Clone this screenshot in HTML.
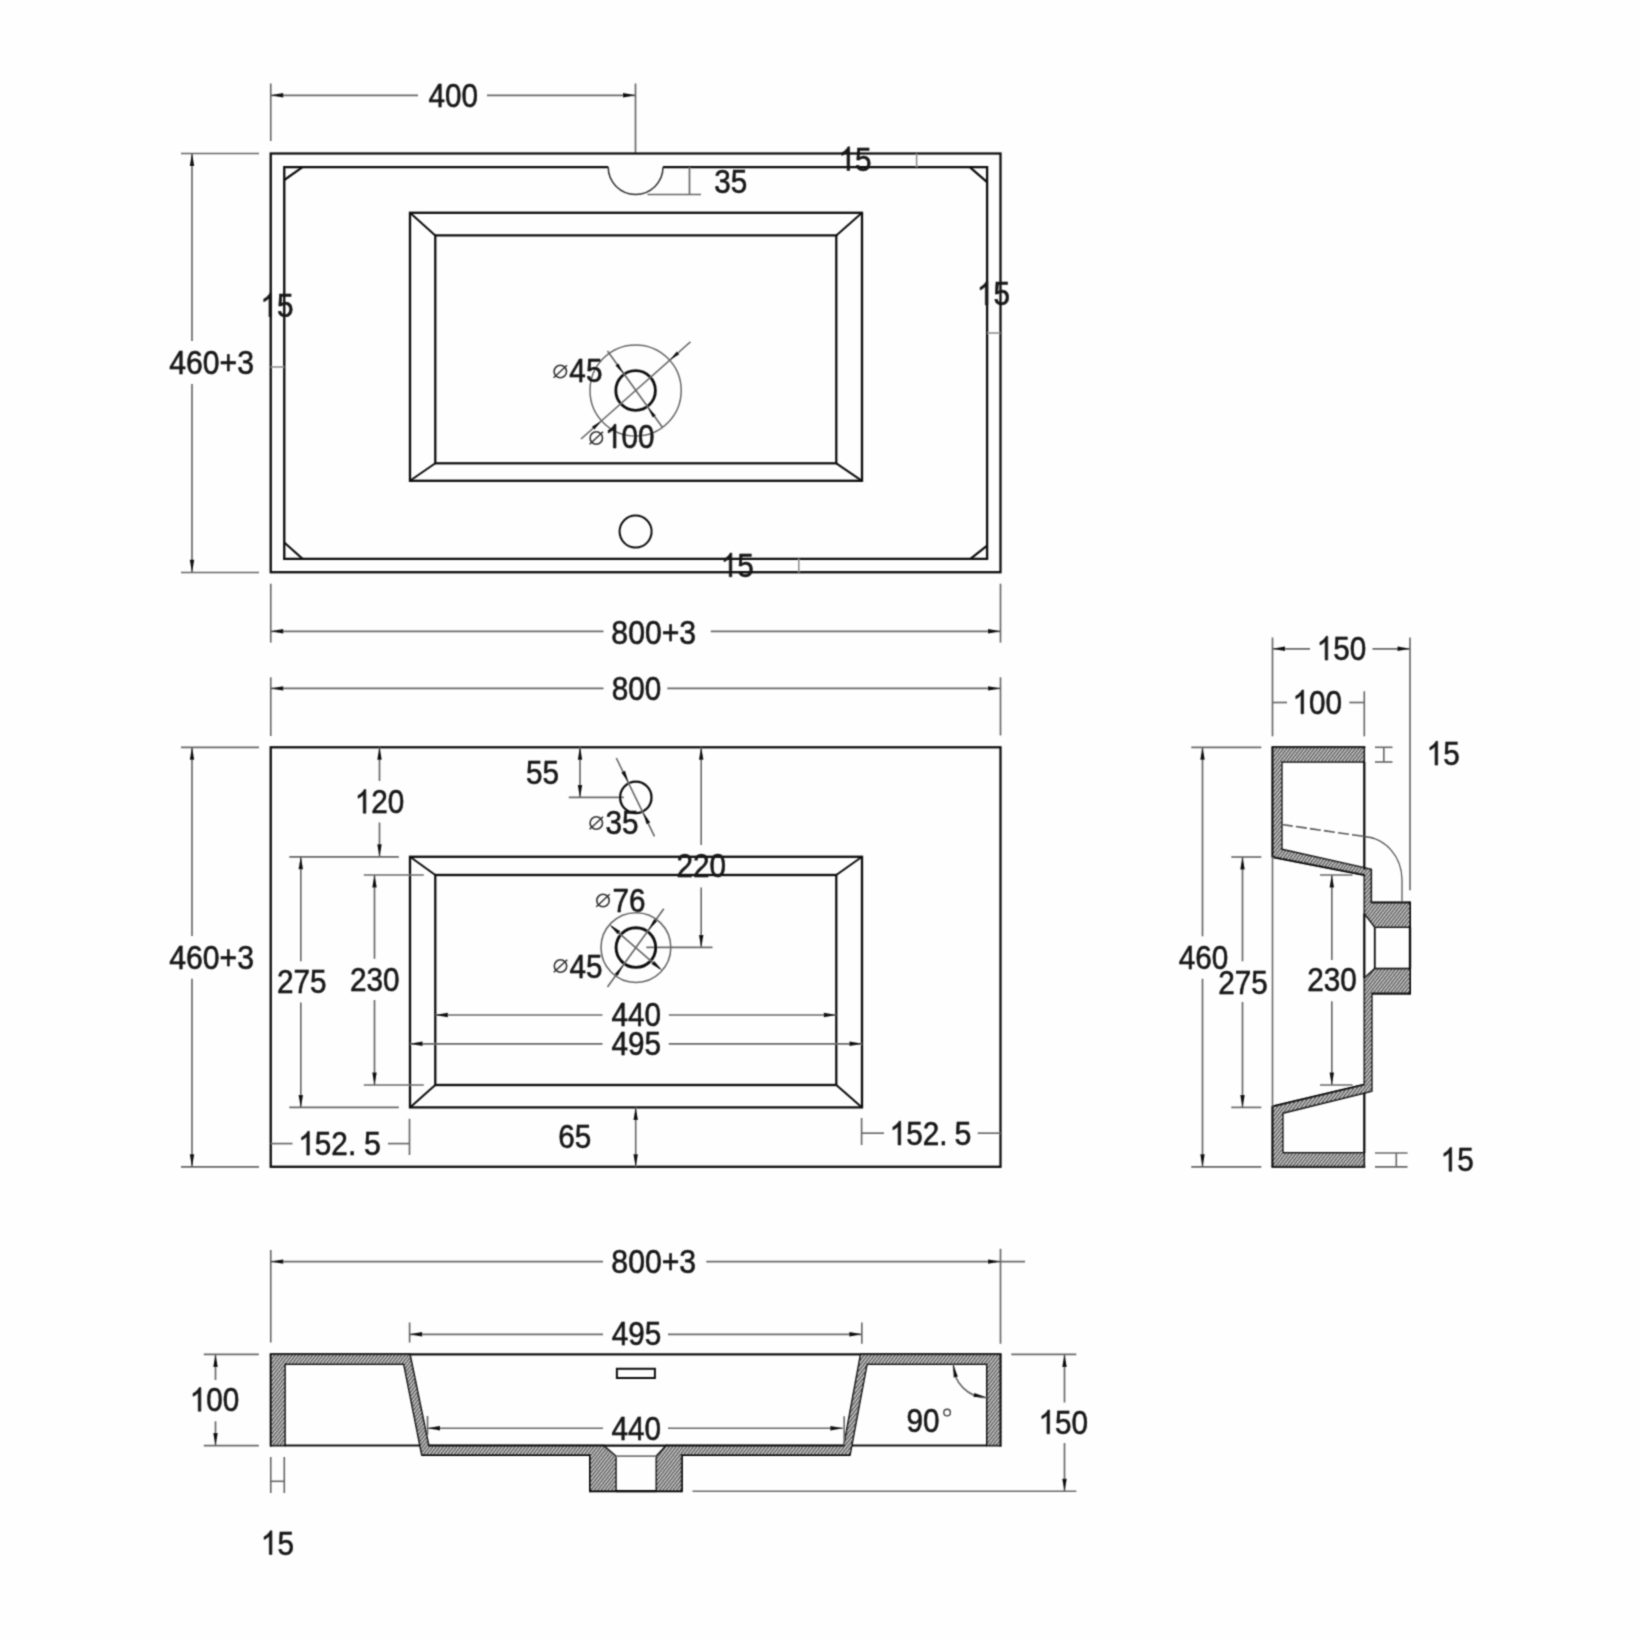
<!DOCTYPE html>
<html><head><meta charset="utf-8"><title>Basin drawing</title>
<style>
html,body{margin:0;padding:0;background:#fefefe;}
body{width:1640px;height:1640px;overflow:hidden;}
svg{display:block;}
text{font-family:"Liberation Sans",sans-serif;fill:#141414;stroke:#141414;stroke-width:0.55px;}
</style></head><body>
<svg width="1640" height="1640" viewBox="0 0 1640 1640">
<defs>
<pattern id="h" width="2.7" height="2.7" patternUnits="userSpaceOnUse" patternTransform="rotate(-52)">
<rect width="2.7" height="2.7" fill="#d0d0d0"/><rect width="2.7" height="1.3" fill="#484848"/>
</pattern>
<filter id="b" x="0" y="0" width="1640" height="1640" filterUnits="userSpaceOnUse"><feConvolveMatrix order="3" kernelMatrix="0.04 0.11 0.04 0.11 0.4 0.11 0.04 0.11 0.04" divisor="1" edgeMode="duplicate" preserveAlpha="false"/></filter>
</defs>
<rect width="1640" height="1640" fill="#fefefe"/>
<g filter="url(#b)">
<line x1="270.75" y1="83.5" x2="270.75" y2="141" stroke="#686868" stroke-width="1.65"/>
<line x1="635.5" y1="83.5" x2="635.5" y2="153" stroke="#686868" stroke-width="1.65"/>
<line x1="270.75" y1="95.3" x2="418" y2="95.3" stroke="#686868" stroke-width="1.65"/>
<line x1="487" y1="95.3" x2="635.5" y2="95.3" stroke="#686868" stroke-width="1.65"/>
<polygon points="270.75,95.3 283.25,93.1 283.25,97.5" fill="#101010"/>
<polygon points="635.5,95.3 623.0,97.5 623.0,93.1" fill="#101010"/>
<rect x="270.75" y="153.5" width="729.75" height="418.7" fill="none" stroke="#101010" stroke-width="2.3"/>
<path d="M608.2,167.1 H284.25 V558.8 H987.1 V167.1 H663" fill="none" stroke="#101010" stroke-width="2.3"/>
<path d="M608.2,167.1 A27.4,27.4 0 0 0 663,167.1" fill="none" stroke="#333" stroke-width="1.5"/>
<line x1="284.25" y1="180" x2="302.5" y2="167.1" stroke="#101010" stroke-width="2.2"/>
<line x1="969.8" y1="167.1" x2="987.1" y2="182.2" stroke="#101010" stroke-width="2.2"/>
<line x1="284.25" y1="542.5" x2="302.5" y2="558.8" stroke="#101010" stroke-width="2.2"/>
<line x1="970.4" y1="558.8" x2="987.1" y2="545.7" stroke="#101010" stroke-width="2.2"/>
<line x1="689.5" y1="167.1" x2="689.5" y2="194.5" stroke="#686868" stroke-width="1.65"/>
<line x1="647.5" y1="194.5" x2="701" y2="194.5" stroke="#686868" stroke-width="1.65"/>
<line x1="916.6" y1="153.5" x2="916.6" y2="167.1" stroke="#8a8a8a" stroke-width="1.5"/>
<line x1="270.75" y1="367" x2="284.25" y2="367" stroke="#8a8a8a" stroke-width="1.5"/>
<line x1="987.1" y1="333" x2="1000.5" y2="333" stroke="#8a8a8a" stroke-width="1.5"/>
<line x1="798.8" y1="558.8" x2="798.8" y2="572.2" stroke="#8a8a8a" stroke-width="1.5"/>
<rect x="410" y="212.8" width="452" height="268.0" fill="none" stroke="#101010" stroke-width="2.3"/>
<rect x="435.3" y="235.4" width="401.0" height="227.9" fill="none" stroke="#101010" stroke-width="2.3"/>
<line x1="410" y1="212.8" x2="435.3" y2="235.4" stroke="#101010" stroke-width="2.0"/>
<line x1="862" y1="212.8" x2="836.3" y2="235.4" stroke="#101010" stroke-width="2.0"/>
<line x1="410" y1="480.8" x2="435.3" y2="463.3" stroke="#101010" stroke-width="2.0"/>
<line x1="862" y1="480.8" x2="836.3" y2="463.3" stroke="#101010" stroke-width="2.0"/>
<circle cx="635.6" cy="390.5" r="19.8" fill="none" stroke="#101010" stroke-width="2.8"/>
<circle cx="635.6" cy="390.5" r="45.6" fill="none" stroke="#686868" stroke-width="1.5"/>
<line x1="581" y1="439" x2="690.5" y2="341.8" stroke="#686868" stroke-width="1.65"/>
<line x1="607.5" y1="351" x2="662.5" y2="427.5" stroke="#686868" stroke-width="1.65"/>
<polygon points="669.85,360.1 676.88,351.45 679.27,354.14" fill="#101010"/>
<polygon points="601.35,420.9 594.32,429.55 591.93,426.86" fill="#101010"/>
<polygon points="623.34,373.45 615.46,365.57 618.38,363.47" fill="#101010"/>
<polygon points="647.86,407.55 655.74,415.43 652.82,417.53" fill="#101010"/>
<circle cx="560.3" cy="371.5" r="6.2" fill="none" stroke="#333" stroke-width="1.6"/>
<line x1="553.5799999999999" y1="377.8" x2="567.02" y2="365.2" stroke="#333" stroke-width="1.5"/>
<circle cx="596.3" cy="438" r="6.2" fill="none" stroke="#333" stroke-width="1.6"/>
<line x1="589.5799999999999" y1="444.3" x2="603.02" y2="431.7" stroke="#333" stroke-width="1.5"/>
<circle cx="635.6" cy="531.6" r="16" fill="none" stroke="#101010" stroke-width="2"/>
<line x1="181" y1="153.5" x2="259" y2="153.5" stroke="#686868" stroke-width="1.65"/>
<line x1="181" y1="572.5" x2="259" y2="572.5" stroke="#686868" stroke-width="1.65"/>
<line x1="192" y1="153.5" x2="192" y2="341" stroke="#686868" stroke-width="1.65"/>
<line x1="192" y1="384" x2="192" y2="572.2" stroke="#686868" stroke-width="1.65"/>
<polygon points="192,153.5 194.2,166.0 189.8,166.0" fill="#101010"/>
<polygon points="192,572.2 189.8,559.7 194.2,559.7" fill="#101010"/>
<line x1="270.75" y1="583.7" x2="270.75" y2="642.6" stroke="#686868" stroke-width="1.65"/>
<line x1="1000.5" y1="583.7" x2="1000.5" y2="642.6" stroke="#686868" stroke-width="1.65"/>
<line x1="270.75" y1="631.3" x2="603.5" y2="631.3" stroke="#686868" stroke-width="1.65"/>
<line x1="710.8" y1="631.3" x2="1000.5" y2="631.3" stroke="#686868" stroke-width="1.65"/>
<polygon points="270.75,631.3 283.25,629.1 283.25,633.5" fill="#101010"/>
<polygon points="1000.5,631.3 988.0,633.5 988.0,629.1" fill="#101010"/>
<line x1="270.75" y1="677.3" x2="270.75" y2="736" stroke="#686868" stroke-width="1.65"/>
<line x1="1000.5" y1="677.3" x2="1000.5" y2="735.5" stroke="#686868" stroke-width="1.65"/>
<line x1="270.75" y1="688.4" x2="603.5" y2="688.4" stroke="#686868" stroke-width="1.65"/>
<line x1="667.3" y1="688.4" x2="1000.5" y2="688.4" stroke="#686868" stroke-width="1.65"/>
<polygon points="270.75,688.4 283.25,686.2 283.25,690.6" fill="#101010"/>
<polygon points="1000.5,688.4 988.0,690.6 988.0,686.2" fill="#101010"/>
<rect x="270.75" y="747.3" width="729.75" height="419.5" fill="none" stroke="#101010" stroke-width="2.3"/>
<line x1="181" y1="747.3" x2="259" y2="747.3" stroke="#686868" stroke-width="1.65"/>
<line x1="181" y1="1166.8" x2="259" y2="1166.8" stroke="#686868" stroke-width="1.65"/>
<line x1="192" y1="747.3" x2="192" y2="936" stroke="#686868" stroke-width="1.65"/>
<line x1="192" y1="978.8" x2="192" y2="1166.8" stroke="#686868" stroke-width="1.65"/>
<polygon points="192,747.3 194.2,759.8 189.8,759.8" fill="#101010"/>
<polygon points="192,1166.8 189.8,1154.3 194.2,1154.3" fill="#101010"/>
<rect x="410" y="856.8" width="452" height="250.6" fill="none" stroke="#101010" stroke-width="2.3"/>
<rect x="435.3" y="875" width="401.0" height="210" fill="none" stroke="#101010" stroke-width="2.3"/>
<line x1="410" y1="856.8" x2="435.3" y2="875" stroke="#101010" stroke-width="2.0"/>
<line x1="862" y1="856.8" x2="836.3" y2="875" stroke="#101010" stroke-width="2.0"/>
<line x1="410" y1="1107.4" x2="435.3" y2="1085" stroke="#101010" stroke-width="2.0"/>
<line x1="862" y1="1107.4" x2="836.3" y2="1085" stroke="#101010" stroke-width="2.0"/>
<line x1="379.5" y1="747.3" x2="379.5" y2="781" stroke="#686868" stroke-width="1.65"/>
<line x1="379.5" y1="822.5" x2="379.5" y2="856.8" stroke="#686868" stroke-width="1.65"/>
<polygon points="379.5,747.3 381.7,759.8 377.3,759.8" fill="#101010"/>
<polygon points="379.5,856.8 377.3,844.3 381.7,844.3" fill="#101010"/>
<line x1="289.3" y1="856.8" x2="398.8" y2="856.8" stroke="#686868" stroke-width="1.65"/>
<line x1="289.3" y1="1107.4" x2="398.8" y2="1107.4" stroke="#686868" stroke-width="1.65"/>
<line x1="300.8" y1="856.8" x2="300.8" y2="961.3" stroke="#686868" stroke-width="1.65"/>
<line x1="300.8" y1="1002.5" x2="300.8" y2="1107.4" stroke="#686868" stroke-width="1.65"/>
<polygon points="300.8,856.8 303.0,869.3 298.6,869.3" fill="#101010"/>
<polygon points="300.8,1107.4 298.6,1094.9 303.0,1094.9" fill="#101010"/>
<line x1="363.8" y1="875" x2="423.8" y2="875" stroke="#686868" stroke-width="1.65"/>
<line x1="363.8" y1="1085" x2="423.8" y2="1085" stroke="#686868" stroke-width="1.65"/>
<line x1="374.5" y1="875" x2="374.5" y2="958.8" stroke="#686868" stroke-width="1.65"/>
<line x1="374.5" y1="1000" x2="374.5" y2="1085" stroke="#686868" stroke-width="1.65"/>
<polygon points="374.5,875 376.7,887.5 372.3,887.5" fill="#101010"/>
<polygon points="374.5,1085 372.3,1072.5 376.7,1072.5" fill="#101010"/>
<line x1="580" y1="747.3" x2="580" y2="797.4" stroke="#686868" stroke-width="1.65"/>
<polygon points="580,747.3 582.2,759.8 577.8,759.8" fill="#101010"/>
<polygon points="580,797.4 577.8,784.9 582.2,784.9" fill="#101010"/>
<line x1="568.8" y1="797.4" x2="623.8" y2="797.4" stroke="#686868" stroke-width="1.65"/>
<circle cx="635.8" cy="797.4" r="15.7" fill="none" stroke="#101010" stroke-width="2.3"/>
<line x1="616.3" y1="758" x2="654.5" y2="836.3" stroke="#686868" stroke-width="1.65"/>
<polygon points="628.43,782.3 621.37,772.39 624.97,770.64" fill="#101010"/>
<polygon points="643.17,812.5 650.23,822.41 646.63,824.16" fill="#101010"/>
<circle cx="596.3" cy="823" r="6.2" fill="none" stroke="#333" stroke-width="1.6"/>
<line x1="589.5799999999999" y1="829.3" x2="603.02" y2="816.7" stroke="#333" stroke-width="1.5"/>
<line x1="701.2" y1="747.3" x2="701.2" y2="845" stroke="#686868" stroke-width="1.65"/>
<line x1="701.2" y1="887.5" x2="701.2" y2="947.4" stroke="#686868" stroke-width="1.65"/>
<polygon points="701.2,747.3 703.4,759.8 699.0,759.8" fill="#101010"/>
<polygon points="701.2,947.4 699.0,934.9 703.4,934.9" fill="#101010"/>
<line x1="646.3" y1="947.4" x2="712.5" y2="947.4" stroke="#686868" stroke-width="1.65"/>
<circle cx="635.9" cy="947.6" r="19.8" fill="none" stroke="#101010" stroke-width="2.9"/>
<circle cx="635.9" cy="947.6" r="34.9" fill="none" stroke="#686868" stroke-width="1.6"/>
<line x1="607.5" y1="987" x2="663.8" y2="908.8" stroke="#686868" stroke-width="1.65"/>
<line x1="611.3" y1="926.3" x2="660" y2="968.8" stroke="#686868" stroke-width="1.65"/>
<polygon points="648.35,930.31 654.19,919.12 657.11,921.22" fill="#101010"/>
<polygon points="623.45,964.89 617.61,976.08 614.69,973.98" fill="#101010"/>
<polygon points="609.53,924.59 620.26,931.3 617.63,934.31" fill="#101010"/>
<polygon points="662.27,970.61 651.54,963.9 654.17,960.89" fill="#101010"/>
<circle cx="603" cy="900.5" r="6.2" fill="none" stroke="#333" stroke-width="1.6"/>
<line x1="596.28" y1="906.8" x2="609.72" y2="894.2" stroke="#333" stroke-width="1.5"/>
<circle cx="560.5" cy="966" r="6.2" fill="none" stroke="#333" stroke-width="1.6"/>
<line x1="553.78" y1="972.3" x2="567.22" y2="959.7" stroke="#333" stroke-width="1.5"/>
<line x1="435.3" y1="1015" x2="602.5" y2="1015" stroke="#686868" stroke-width="1.65"/>
<line x1="668.8" y1="1015" x2="836.3" y2="1015" stroke="#686868" stroke-width="1.65"/>
<polygon points="435.3,1015 447.8,1012.8 447.8,1017.2" fill="#101010"/>
<polygon points="836.3,1015 823.8,1017.2 823.8,1012.8" fill="#101010"/>
<line x1="410" y1="1043.8" x2="602.5" y2="1043.8" stroke="#686868" stroke-width="1.65"/>
<line x1="668.8" y1="1043.8" x2="862" y2="1043.8" stroke="#686868" stroke-width="1.65"/>
<polygon points="410,1043.8 422.5,1041.6 422.5,1046.0" fill="#101010"/>
<polygon points="862,1043.8 849.5,1046.0 849.5,1041.6" fill="#101010"/>
<line x1="409.5" y1="1118.8" x2="409.5" y2="1155" stroke="#686868" stroke-width="1.65"/>
<line x1="270.75" y1="1143.6" x2="292.5" y2="1143.6" stroke="#686868" stroke-width="1.65"/>
<line x1="388" y1="1143.6" x2="409.5" y2="1143.6" stroke="#686868" stroke-width="1.65"/>
<line x1="635.7" y1="1107.4" x2="635.7" y2="1166.8" stroke="#686868" stroke-width="1.65"/>
<polygon points="635.7,1107.4 637.9,1119.9 633.5,1119.9" fill="#101010"/>
<polygon points="635.7,1166.8 633.5,1154.3 637.9,1154.3" fill="#101010"/>
<line x1="861.6" y1="1118" x2="861.6" y2="1145" stroke="#686868" stroke-width="1.65"/>
<line x1="861.6" y1="1133.2" x2="884" y2="1133.2" stroke="#686868" stroke-width="1.65"/>
<line x1="977.7" y1="1133.2" x2="1000.5" y2="1133.2" stroke="#686868" stroke-width="1.65"/>
<line x1="270.75" y1="1250" x2="270.75" y2="1342.5" stroke="#686868" stroke-width="1.65"/>
<line x1="1000.5" y1="1248.8" x2="1000.5" y2="1343.8" stroke="#686868" stroke-width="1.65"/>
<line x1="270.75" y1="1261.6" x2="603" y2="1261.6" stroke="#686868" stroke-width="1.65"/>
<line x1="706.3" y1="1261.6" x2="1025" y2="1261.6" stroke="#686868" stroke-width="1.65"/>
<polygon points="270.75,1261.6 283.25,1259.4 283.25,1263.8" fill="#101010"/>
<polygon points="1000.5,1261.6 988.0,1263.8 988.0,1259.4" fill="#101010"/>
<line x1="409.6" y1="1322.5" x2="409.6" y2="1342.5" stroke="#686868" stroke-width="1.65"/>
<line x1="861.8" y1="1322.5" x2="861.8" y2="1343.8" stroke="#686868" stroke-width="1.65"/>
<line x1="409.6" y1="1334.3" x2="603" y2="1334.3" stroke="#686868" stroke-width="1.65"/>
<line x1="668" y1="1334.3" x2="861.8" y2="1334.3" stroke="#686868" stroke-width="1.65"/>
<polygon points="409.6,1334.3 422.1,1332.1 422.1,1336.5" fill="#101010"/>
<polygon points="861.8,1334.3 849.3,1336.5 849.3,1332.1" fill="#101010"/>
<line x1="269.75" y1="1354.4" x2="1001.5" y2="1354.4" stroke="#101010" stroke-width="2.2"/>
<polygon points="270.75,1354.4 410,1354.4 428.8,1445.6 603.5,1445.6 615.9,1456 615.9,1491.2 590,1491.2 590,1455 421.8,1455 403.8,1364.2 285,1364.2 285,1445.6 270.75,1445.6" fill="url(#h)" stroke="#101010" stroke-width="1.6" stroke-linejoin="miter" stroke-miterlimit="1.6"/>
<line x1="285" y1="1445.6" x2="420.5" y2="1445.6" stroke="#101010" stroke-width="2"/>
<polygon points="1000.5,1354.4 860.6,1354.4 843.8,1445.6 666.2,1445.6 656.3,1456 656.3,1491.2 681.8,1491.2 681.8,1455 850,1455 867,1364.2 986.8,1364.2 986.8,1445.6 1000.5,1445.6" fill="url(#h)" stroke="#101010" stroke-width="1.6" stroke-linejoin="miter" stroke-miterlimit="1.6"/>
<line x1="851" y1="1445.6" x2="986.8" y2="1445.6" stroke="#101010" stroke-width="2"/>
<line x1="615.9" y1="1456.1" x2="656.3" y2="1456.1" stroke="#777" stroke-width="1.7"/>
<line x1="603" y1="1445.6" x2="667" y2="1445.6" stroke="#101010" stroke-width="2.2"/>
<line x1="615.9" y1="1491.2" x2="656.3" y2="1491.2" stroke="#101010" stroke-width="2.2"/>
<line x1="270.75" y1="1354.4" x2="270.75" y2="1446.6" stroke="#101010" stroke-width="2.0"/>
<line x1="1000.5" y1="1354.4" x2="1000.5" y2="1446.6" stroke="#101010" stroke-width="2.0"/>
<line x1="421.5" y1="1455" x2="590" y2="1455" stroke="#101010" stroke-width="2.0"/>
<line x1="681.8" y1="1455" x2="850.3" y2="1455" stroke="#101010" stroke-width="2.0"/>
<line x1="590" y1="1454" x2="590" y2="1492.2" stroke="#101010" stroke-width="2.0"/>
<line x1="681.8" y1="1454" x2="681.8" y2="1492.2" stroke="#101010" stroke-width="2.0"/>
<line x1="590" y1="1491.2" x2="681.8" y2="1491.2" stroke="#101010" stroke-width="2.0"/>
<line x1="428.8" y1="1445.6" x2="603.5" y2="1445.6" stroke="#101010" stroke-width="2.0"/>
<line x1="666.2" y1="1445.6" x2="843.8" y2="1445.6" stroke="#101010" stroke-width="2.0"/>
<rect x="616.9" y="1368.8" width="38.0" height="9.2" fill="none" stroke="#101010" stroke-width="2"/>
<line x1="427.5" y1="1416" x2="427.5" y2="1435" stroke="#686868" stroke-width="1.65"/>
<line x1="844.2" y1="1416.3" x2="844.2" y2="1445" stroke="#686868" stroke-width="1.65"/>
<line x1="427.5" y1="1428.2" x2="603" y2="1428.2" stroke="#686868" stroke-width="1.65"/>
<line x1="668" y1="1428.2" x2="842.8" y2="1428.2" stroke="#686868" stroke-width="1.65"/>
<polygon points="427.5,1428.2 440.0,1426.0 440.0,1430.4" fill="#101010"/>
<polygon points="842.8,1428.2 830.3,1430.4 830.3,1426.0" fill="#101010"/>
<line x1="203.8" y1="1354.4" x2="258.8" y2="1354.4" stroke="#686868" stroke-width="1.65"/>
<line x1="203.8" y1="1445.6" x2="258.8" y2="1445.6" stroke="#686868" stroke-width="1.65"/>
<line x1="215.5" y1="1354.4" x2="215.5" y2="1380" stroke="#686868" stroke-width="1.65"/>
<line x1="215.5" y1="1421.3" x2="215.5" y2="1445.6" stroke="#686868" stroke-width="1.65"/>
<polygon points="215.5,1354.4 217.7,1366.9 213.3,1366.9" fill="#101010"/>
<polygon points="215.5,1445.6 213.3,1433.1 217.7,1433.1" fill="#101010"/>
<line x1="270.75" y1="1457" x2="270.75" y2="1493" stroke="#686868" stroke-width="1.65"/>
<line x1="284.3" y1="1457" x2="284.3" y2="1493" stroke="#686868" stroke-width="1.65"/>
<line x1="270.75" y1="1481.3" x2="284.3" y2="1481.3" stroke="#686868" stroke-width="1.65"/>
<path d="M953.3,1364.2 A33.5,33.5 0 0 0 986.8,1397.7" fill="none" stroke="#686868" stroke-width="1.65"/>
<polygon points="953.4,1364.8 957.85,1376.67 953.72,1377.47" fill="#101010"/>
<polygon points="986.2,1397.2 973.53,1397.1 974.25,1392.96" fill="#101010"/>
<circle cx="947.1" cy="1412.6" r="3.3" fill="none" stroke="#444" stroke-width="1.4"/>
<line x1="1011.3" y1="1354.4" x2="1076.3" y2="1354.4" stroke="#686868" stroke-width="1.65"/>
<line x1="692.5" y1="1491.2" x2="1076.3" y2="1491.2" stroke="#686868" stroke-width="1.65"/>
<line x1="1064.5" y1="1354.4" x2="1064.5" y2="1402.5" stroke="#686868" stroke-width="1.65"/>
<line x1="1064.5" y1="1443" x2="1064.5" y2="1491.2" stroke="#686868" stroke-width="1.65"/>
<polygon points="1064.5,1354.4 1066.7,1366.9 1062.3,1366.9" fill="#101010"/>
<polygon points="1064.5,1491.2 1062.3,1478.7 1066.7,1478.7" fill="#101010"/>
<line x1="1272.5" y1="637.5" x2="1272.5" y2="736.3" stroke="#686868" stroke-width="1.65"/>
<line x1="1410" y1="637.5" x2="1410" y2="890.3" stroke="#686868" stroke-width="1.65"/>
<line x1="1272.5" y1="648.8" x2="1310" y2="648.8" stroke="#686868" stroke-width="1.65"/>
<line x1="1372.5" y1="648.8" x2="1410" y2="648.8" stroke="#686868" stroke-width="1.65"/>
<polygon points="1272.5,648.8 1285.0,646.6 1285.0,651.0" fill="#101010"/>
<polygon points="1410,648.8 1397.5,651.0 1397.5,646.6" fill="#101010"/>
<line x1="1364.3" y1="691.3" x2="1364.3" y2="736.3" stroke="#686868" stroke-width="1.65"/>
<line x1="1272.5" y1="702.5" x2="1287" y2="702.5" stroke="#686868" stroke-width="1.65"/>
<line x1="1349.3" y1="702.5" x2="1364.3" y2="702.5" stroke="#686868" stroke-width="1.65"/>
<polygon points="1272.5,747.3 1364.3,747.3 1364.3,762 1281.8,762 1281.8,849.3 1371.3,869.3 1371.3,902.5 1410,902.5 1410,927.3 1374.8,927.3 1364.3,913.5 1364.3,875 1272.5,857" fill="url(#h)" stroke="#101010" stroke-width="1.6" stroke-linejoin="miter" stroke-miterlimit="1.6"/>
<polygon points="1272.5,1166.8 1364.3,1166.8 1364.3,1152.7 1282.8,1152.7 1282.8,1113.2 1371.8,1091.2 1371.8,993.6 1410,993.6 1410,968.6 1374.8,968.6 1364.3,978.2 1364.3,1084.6 1272.5,1106.5" fill="url(#h)" stroke="#101010" stroke-width="1.6" stroke-linejoin="miter" stroke-miterlimit="1.6"/>
<line x1="1271.5" y1="747.3" x2="1365.3" y2="747.3" stroke="#101010" stroke-width="2.0"/>
<line x1="1272.5" y1="747.3" x2="1272.5" y2="857.5" stroke="#101010" stroke-width="2.0"/>
<line x1="1272.5" y1="857" x2="1364.3" y2="875" stroke="#101010" stroke-width="2.0"/>
<line x1="1271.5" y1="1166.8" x2="1365.3" y2="1166.8" stroke="#101010" stroke-width="2.0"/>
<line x1="1272.5" y1="1106" x2="1272.5" y2="1166.8" stroke="#101010" stroke-width="2.0"/>
<line x1="1272.5" y1="1106.5" x2="1364.3" y2="1084.6" stroke="#101010" stroke-width="2.0"/>
<line x1="1410" y1="901.5" x2="1410" y2="994.5" stroke="#101010" stroke-width="2.0"/>
<line x1="1371.3" y1="902.5" x2="1410" y2="902.5" stroke="#101010" stroke-width="2.0"/>
<line x1="1371.8" y1="993.6" x2="1410" y2="993.6" stroke="#101010" stroke-width="2.0"/>
<line x1="1364.3" y1="762" x2="1364.3" y2="870" stroke="#101010" stroke-width="2.3"/>
<line x1="1364.3" y1="1092.5" x2="1364.3" y2="1152.7" stroke="#101010" stroke-width="2.3"/>
<line x1="1364.3" y1="913.5" x2="1364.3" y2="978.2" stroke="#101010" stroke-width="2.3"/>
<line x1="1374.8" y1="927.3" x2="1374.8" y2="968.6" stroke="#101010" stroke-width="1.8"/>
<line x1="1410" y1="927.3" x2="1410" y2="968.6" stroke="#101010" stroke-width="2.3"/>
<line x1="1272.5" y1="857" x2="1272.5" y2="1106.5" stroke="#6a6a6a" stroke-width="1.6"/>
<line x1="1281.8" y1="824.5" x2="1364.3" y2="836.5" stroke="#5a5a5a" stroke-width="1.6" stroke-dasharray="11,3.2"/>
<path d="M1364.3,836.5 C1385,838 1402,856 1402,880 L1402,902" fill="none" stroke="#555" stroke-width="1.3"/>
<line x1="1375" y1="747.3" x2="1392.5" y2="747.3" stroke="#686868" stroke-width="1.65"/>
<line x1="1375" y1="762" x2="1392.5" y2="762" stroke="#686868" stroke-width="1.65"/>
<line x1="1383.8" y1="747.3" x2="1383.8" y2="762" stroke="#686868" stroke-width="1.65"/>
<line x1="1375" y1="1153" x2="1407.5" y2="1153" stroke="#686868" stroke-width="1.65"/>
<line x1="1375" y1="1166.8" x2="1407.5" y2="1166.8" stroke="#686868" stroke-width="1.65"/>
<line x1="1396.3" y1="1153" x2="1396.3" y2="1166.8" stroke="#686868" stroke-width="1.65"/>
<line x1="1191.3" y1="747.3" x2="1261.3" y2="747.3" stroke="#686868" stroke-width="1.65"/>
<line x1="1191.3" y1="1166.8" x2="1261.3" y2="1166.8" stroke="#686868" stroke-width="1.65"/>
<line x1="1202.5" y1="747.3" x2="1202.5" y2="936.3" stroke="#686868" stroke-width="1.65"/>
<line x1="1202.5" y1="978.8" x2="1202.5" y2="1166.8" stroke="#686868" stroke-width="1.65"/>
<polygon points="1202.5,747.3 1204.7,759.8 1200.3,759.8" fill="#101010"/>
<polygon points="1202.5,1166.8 1200.3,1154.3 1204.7,1154.3" fill="#101010"/>
<line x1="1231.3" y1="857" x2="1261.3" y2="857" stroke="#686868" stroke-width="1.65"/>
<line x1="1231.3" y1="1107.4" x2="1261.3" y2="1107.4" stroke="#686868" stroke-width="1.65"/>
<line x1="1242.5" y1="857" x2="1242.5" y2="961.3" stroke="#686868" stroke-width="1.65"/>
<line x1="1242.5" y1="1002" x2="1242.5" y2="1107.4" stroke="#686868" stroke-width="1.65"/>
<polygon points="1242.5,857 1244.7,869.5 1240.3,869.5" fill="#101010"/>
<polygon points="1242.5,1107.4 1240.3,1094.9 1244.7,1094.9" fill="#101010"/>
<line x1="1320" y1="875" x2="1352.5" y2="875" stroke="#686868" stroke-width="1.65"/>
<line x1="1320" y1="1085" x2="1352.5" y2="1085" stroke="#686868" stroke-width="1.65"/>
<line x1="1331.8" y1="875" x2="1331.8" y2="960" stroke="#686868" stroke-width="1.65"/>
<line x1="1331.8" y1="1001.3" x2="1331.8" y2="1085" stroke="#686868" stroke-width="1.65"/>
<polygon points="1331.8,875 1334.0,887.5 1329.6,887.5" fill="#101010"/>
<polygon points="1331.8,1085 1329.6,1072.5 1334.0,1072.5" fill="#101010"/>
<text transform="translate(428.59,106.75) scale(0.9,1)" font-size="33">400</text>
<text transform="translate(169.16,374.25) scale(0.915,1)" font-size="33">460+3</text>
<g transform="translate(260.49,316.75)"><path d="M763 0H583V1147Q518 1085 412.5 1023T223 930V1104Q374 1175 487 1276T647 1472H763Z" transform="scale(0.0145,-0.01611)" fill="#141414" stroke="#141414" stroke-width="35"/><text transform="translate(16.52,0) scale(0.9,1)" font-size="33">5</text></g>
<text transform="translate(714.17,193.0) scale(0.9,1)" font-size="33">35</text>
<g transform="translate(838.59,170.5)"><path d="M763 0H583V1147Q518 1085 412.5 1023T223 930V1104Q374 1175 487 1276T647 1472H763Z" transform="scale(0.0145,-0.01611)" fill="#141414" stroke="#141414" stroke-width="35"/><text transform="translate(16.52,0) scale(0.9,1)" font-size="33">5</text></g>
<g transform="translate(976.89,305.0)"><path d="M763 0H583V1147Q518 1085 412.5 1023T223 930V1104Q374 1175 487 1276T647 1472H763Z" transform="scale(0.0145,-0.01611)" fill="#141414" stroke="#141414" stroke-width="35"/><text transform="translate(16.52,0) scale(0.9,1)" font-size="33">5</text></g>
<text transform="translate(569.37,382.2) scale(0.9,1)" font-size="33">45</text>
<g transform="translate(604.94,448.0)"><path d="M763 0H583V1147Q518 1085 412.5 1023T223 930V1104Q374 1175 487 1276T647 1472H763Z" transform="scale(0.0145,-0.01611)" fill="#141414" stroke="#141414" stroke-width="35"/><text transform="translate(16.52,0) scale(0.9,1)" font-size="33">00</text></g>
<g transform="translate(720.79,576.8)"><path d="M763 0H583V1147Q518 1085 412.5 1023T223 930V1104Q374 1175 487 1276T647 1472H763Z" transform="scale(0.0145,-0.01611)" fill="#141414" stroke="#141414" stroke-width="35"/><text transform="translate(16.52,0) scale(0.9,1)" font-size="33">5</text></g>
<text transform="translate(611.35,643.7) scale(0.915,1)" font-size="33">800+3</text>
<text transform="translate(611.76,699.6) scale(0.9,1)" font-size="33">800</text>
<text transform="translate(169.16,968.75) scale(0.915,1)" font-size="33">460+3</text>
<g transform="translate(354.81,813.25)"><path d="M763 0H583V1147Q518 1085 412.5 1023T223 930V1104Q374 1175 487 1276T647 1472H763Z" transform="scale(0.0145,-0.01611)" fill="#141414" stroke="#141414" stroke-width="35"/><text transform="translate(16.52,0) scale(0.9,1)" font-size="33">20</text></g>
<text transform="translate(526.01,783.75) scale(0.9,1)" font-size="33">55</text>
<text transform="translate(605.42,833.75) scale(0.9,1)" font-size="33">35</text>
<text transform="translate(676.56,877.0) scale(0.9,1)" font-size="33">220</text>
<text transform="translate(612.5,912.0) scale(0.9,1)" font-size="33">76</text>
<text transform="translate(569.39,977.5) scale(0.9,1)" font-size="33">45</text>
<text transform="translate(611.46,1025.75) scale(0.9,1)" font-size="33">440</text>
<text transform="translate(611.51,1055.0) scale(0.9,1)" font-size="33">495</text>
<text transform="translate(276.98,993.0) scale(0.9,1)" font-size="33">275</text>
<text transform="translate(350.06,991.25) scale(0.9,1)" font-size="33">230</text>
<g transform="translate(298.34,1155.0)"><path d="M763 0H583V1147Q518 1085 412.5 1023T223 930V1104Q374 1175 487 1276T647 1472H763Z" transform="scale(0.0145,-0.01611)" fill="#141414" stroke="#141414" stroke-width="35"/><text transform="translate(16.52,0) scale(0.9,1)" font-size="33">52.</text></g>
<text transform="translate(364.09,1155.0) scale(0.92,1)" font-size="33">5</text>
<text transform="translate(558.35,1147.5) scale(0.9,1)" font-size="33">65</text>
<g transform="translate(889.64,1144.9)"><path d="M763 0H583V1147Q518 1085 412.5 1023T223 930V1104Q374 1175 487 1276T647 1472H763Z" transform="scale(0.0145,-0.01611)" fill="#141414" stroke="#141414" stroke-width="35"/><text transform="translate(16.52,0) scale(0.9,1)" font-size="33">52.</text></g>
<text transform="translate(954.59,1144.9) scale(0.92,1)" font-size="33">5</text>
<text transform="translate(611.35,1273.0) scale(0.915,1)" font-size="33">800+3</text>
<text transform="translate(611.76,1345.0) scale(0.9,1)" font-size="33">495</text>
<text transform="translate(611.46,1439.5) scale(0.9,1)" font-size="33">440</text>
<g transform="translate(189.81,1411.25)"><path d="M763 0H583V1147Q518 1085 412.5 1023T223 930V1104Q374 1175 487 1276T647 1472H763Z" transform="scale(0.0145,-0.01611)" fill="#141414" stroke="#141414" stroke-width="35"/><text transform="translate(16.52,0) scale(0.9,1)" font-size="33">00</text></g>
<g transform="translate(260.86,1554.5)"><path d="M763 0H583V1147Q518 1085 412.5 1023T223 930V1104Q374 1175 487 1276T647 1472H763Z" transform="scale(0.0145,-0.01611)" fill="#141414" stroke="#141414" stroke-width="35"/><text transform="translate(16.52,0) scale(0.9,1)" font-size="33">5</text></g>
<text transform="translate(906.49,1432.0) scale(0.9,1)" font-size="33">90</text>
<g transform="translate(1038.56,1433.75)"><path d="M763 0H583V1147Q518 1085 412.5 1023T223 930V1104Q374 1175 487 1276T647 1472H763Z" transform="scale(0.0145,-0.01611)" fill="#141414" stroke="#141414" stroke-width="35"/><text transform="translate(16.52,0) scale(0.9,1)" font-size="33">50</text></g>
<g transform="translate(1316.69,660.0)"><path d="M763 0H583V1147Q518 1085 412.5 1023T223 930V1104Q374 1175 487 1276T647 1472H763Z" transform="scale(0.0145,-0.01611)" fill="#141414" stroke="#141414" stroke-width="35"/><text transform="translate(16.52,0) scale(0.9,1)" font-size="33">50</text></g>
<g transform="translate(1292.56,713.75)"><path d="M763 0H583V1147Q518 1085 412.5 1023T223 930V1104Q374 1175 487 1276T647 1472H763Z" transform="scale(0.0145,-0.01611)" fill="#141414" stroke="#141414" stroke-width="35"/><text transform="translate(16.52,0) scale(0.9,1)" font-size="33">00</text></g>
<g transform="translate(1426.61,765.0)"><path d="M763 0H583V1147Q518 1085 412.5 1023T223 930V1104Q374 1175 487 1276T647 1472H763Z" transform="scale(0.0145,-0.01611)" fill="#141414" stroke="#141414" stroke-width="35"/><text transform="translate(16.52,0) scale(0.9,1)" font-size="33">5</text></g>
<text transform="translate(1178.84,968.75) scale(0.9,1)" font-size="33">460</text>
<text transform="translate(1218.35,993.75) scale(0.9,1)" font-size="33">275</text>
<text transform="translate(1307.31,991.25) scale(0.9,1)" font-size="33">230</text>
<g transform="translate(1440.61,1171.25)"><path d="M763 0H583V1147Q518 1085 412.5 1023T223 930V1104Q374 1175 487 1276T647 1472H763Z" transform="scale(0.0145,-0.01611)" fill="#141414" stroke="#141414" stroke-width="35"/><text transform="translate(16.52,0) scale(0.9,1)" font-size="33">5</text></g>
</g>
</svg>
</body></html>
